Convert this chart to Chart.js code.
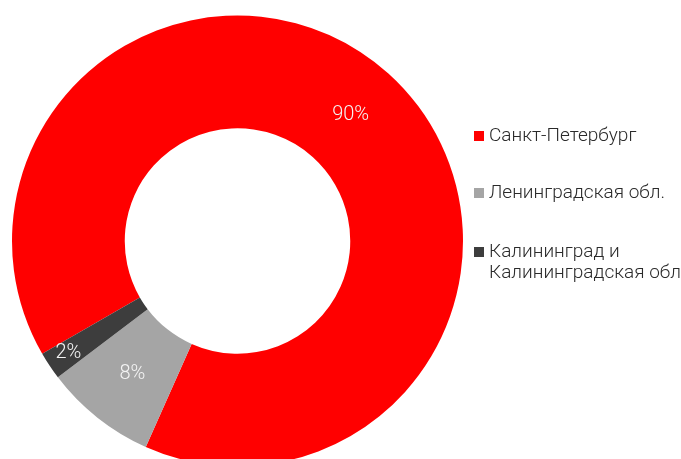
<!DOCTYPE html>
<html>
<head>
<meta charset="utf-8">
<script src="https://cdn.jsdelivr.net/npm/chart.js@4/dist/chart.umd.min.js"></script>
<style>
  html, body { margin: 0; padding: 0; background: #ffffff; }
  #wrap { width: 681px; height: 459px; overflow: hidden; position: relative; }
  canvas { display: block; }
</style>
</head>
<body>
<div id="wrap"><canvas id="c" width="681" height="480"></canvas></div>
<script>
// Regions and their shares, %
const regions = [
  'Санкт-Петербург',
  'Ленинградская обл.',
  ['Калининград и', 'Калининградская обл']
];
const shares = [90, 8, 2];
const colors = ['#ff0000', '#a5a5a5', '#3d3d3d'];

// White percentage labels placed inside each ring segment
const sliceLabels = {
  id: 'sliceLabels',
  afterDatasetsDraw(chart) {
    const { ctx } = chart;
    const meta = chart.getDatasetMeta(0);
    const data = chart.data.datasets[0].data;
    const total = data.reduce((a, b) => a + b, 0);
    ctx.save();
    ctx.font = '300 20px Roboto';
    ctx.fillStyle = '#f4f4f4';
    ctx.textAlign = 'center';
    ctx.textBaseline = 'middle';
    meta.data.forEach((arc, i) => {
      const p = arc.getProps(['x', 'y', 'startAngle', 'endAngle', 'innerRadius', 'outerRadius'], true);
      const mid = (p.startAngle + p.endAngle) / 2;
      const span = p.endAngle - p.startAngle;
      const k = span < 0.25 ? 0.8 : 0.5;
      const r = p.innerRadius + (p.outerRadius - p.innerRadius) * k;
      const pct = Math.round(data[i] / total * 100) + '%';
      ctx.fillText(pct, p.x + Math.cos(mid) * r, p.y + Math.sin(mid) * r);
    });
    ctx.restore();
  }
};

// Legend on the right with square markers and wrapped names
const sideLegend = {
  id: 'sideLegend',
  afterDraw(chart) {
    const { ctx } = chart;
    const labels = chart.data.labels;
    const bg = chart.data.datasets[0].backgroundColor;
    const x0 = 474, box = 10, textX = 489, lineH = 21;
    const rows = [136, 193, 252];
    ctx.save();
    ctx.font = '300 19px Roboto';
    ctx.textBaseline = 'middle';
    ctx.textAlign = 'left';
    labels.forEach((lab, i) => {
      const y = rows[i];
      ctx.fillStyle = bg[i];
      ctx.fillRect(x0, y - box / 2, box, box);
      ctx.fillStyle = '#2a2a2a';
      const lines = Array.isArray(lab) ? lab : [lab];
      lines.forEach((t, j) => ctx.fillText(t, textX, y + j * lineH));
    });
    ctx.restore();
  }
};

new Chart(document.getElementById('c'), {
  type: 'doughnut',
  data: {
    labels: regions,
    datasets: [{
      data: shares,
      backgroundColor: colors,
      borderWidth: 0,
      hoverOffset: 0
    }]
  },
  options: {
    responsive: false,
    animation: false,
    rotation: -120,
    cutout: '50%',
    layout: { padding: { left: 12, top: 15.5, right: 218, bottom: 13.5 } },
    plugins: {
      legend: { display: false },
      tooltip: { enabled: false }
    }
  },
  plugins: [sliceLabels, sideLegend]
});
</script>
</body>
</html>
